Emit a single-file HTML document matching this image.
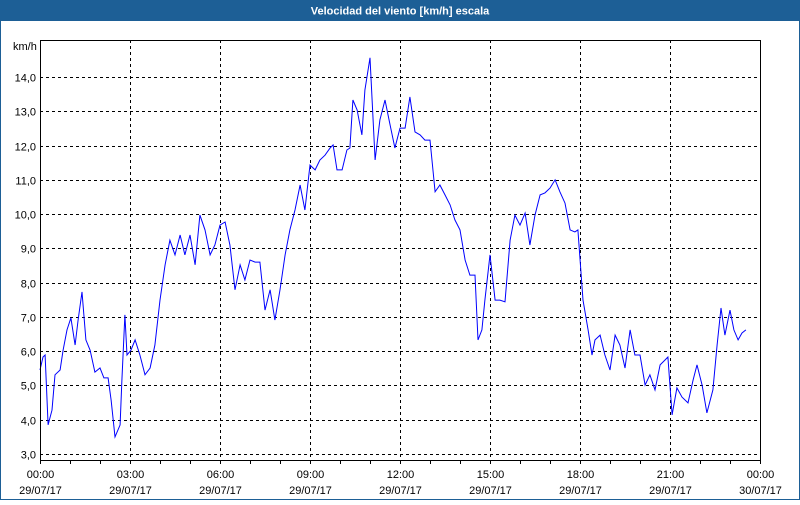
<!DOCTYPE html>
<html><head><meta charset="utf-8"><style>
body{margin:0;width:800px;height:500px;overflow:hidden;background:#fff;font-family:"Liberation Sans",sans-serif}
</style></head><body>
<svg id="chart" width="800" height="500" xmlns="http://www.w3.org/2000/svg" font-family="Liberation Sans, sans-serif">
<rect x="0.5" y="0.5" width="799" height="499" fill="#fff" stroke="#1d5f96"/>
<rect x="0" y="0" width="800" height="21" fill="#1d5f96"/>
<text x="400" y="14.5" fill="#fff" font-size="11" font-weight="bold" text-anchor="middle">Velocidad del viento [km/h] escala</text>
<text x="13" y="50" font-size="11" fill="#000">km/h</text>
<g id="grid"></g>
<g id="axes"></g>
<polyline id="series" fill="none" stroke="#0000ff" stroke-width="1"/>
<rect x="40.5" y="40.5" width="720" height="420" fill="none" stroke="#000"/>
</svg>
<script>
const hours=[0,0.1,0.17,0.27,0.4,0.5,0.67,0.77,0.9,1.03,1.17,1.27,1.4,1.53,1.67,1.83,2,2.13,2.27,2.37,2.5,2.67,2.73,2.83,2.9,3.03,3.17,3.33,3.5,3.67,3.83,4,4.17,4.33,4.5,4.67,4.83,5,5.17,5.33,5.5,5.67,5.83,6,6.17,6.33,6.5,6.67,6.83,7,7.17,7.33,7.5,7.67,7.83,8,8.17,8.33,8.5,8.67,8.83,9,9.17,9.33,9.5,9.67,9.77,9.9,10.07,10.23,10.33,10.43,10.57,10.73,10.83,11,11.17,11.33,11.5,11.67,11.83,12,12.17,12.33,12.5,12.67,12.83,13,13.17,13.33,13.5,13.67,13.83,14,14.17,14.33,14.5,14.6,14.73,14.83,15,15.17,15.33,15.5,15.67,15.83,16,16.17,16.33,16.5,16.67,16.83,17,17.17,17.33,17.5,17.67,17.83,17.93,18.1,18.27,18.4,18.5,18.67,18.83,19,19.17,19.33,19.5,19.67,19.83,20,20.17,20.33,20.5,20.67,20.83,20.93,21.07,21.23,21.4,21.6,21.77,21.9,22.07,22.23,22.43,22.57,22.7,22.83,23,23.13,23.27,23.4,23.53];
const speeds=[5.45,5.83,5.89,3.85,4.28,5.31,5.45,6.03,6.62,6.97,6.18,6.91,7.73,6.33,6.03,5.39,5.51,5.22,5.22,4.58,3.5,3.85,5.16,7.06,5.89,6.03,6.33,5.89,5.31,5.51,6.18,7.49,8.52,9.24,8.81,9.39,8.81,9.39,8.52,9.97,9.54,8.81,9.1,9.68,9.77,9.1,7.79,8.52,8.08,8.66,8.6,8.6,7.2,7.79,6.91,7.79,8.81,9.54,10.12,10.85,10.12,11.43,11.29,11.58,11.72,11.93,12.02,11.29,11.29,11.87,11.93,13.33,13.04,12.31,13.62,14.56,11.58,12.75,13.33,12.6,11.93,12.51,12.51,13.42,12.4,12.31,12.16,12.16,10.65,10.85,10.56,10.27,9.83,9.54,8.66,8.22,8.22,6.33,6.62,7.49,8.81,7.49,7.49,7.44,9.24,9.97,9.68,10.03,9.1,9.97,10.56,10.62,10.76,11.0,10.65,10.32,9.54,9.48,9.54,7.49,6.62,5.89,6.33,6.47,5.89,5.45,6.47,6.18,5.51,6.62,5.89,5.89,5.01,5.31,4.87,5.6,5.74,5.83,4.14,4.93,4.66,4.49,5.16,5.6,5.01,4.2,4.87,6.18,7.26,6.47,7.2,6.62,6.33,6.53,6.62];
const yTicks=[3,4,5,6,7,8,9,10,11,12,13,14];
const yTickLabels=["3,0","4,0","5,0","6,0","7,0","8,0","9,0","10,0","11,0","12,0","13,0","14,0"];
const xTicks=[0,3,6,9,12,15,18,21,24];
const xTimeLabels=["00:00","03:00","06:00","09:00","12:00","15:00","18:00","21:00","00:00"];
const xDateLabels=["29/07/17","29/07/17","29/07/17","29/07/17","29/07/17","29/07/17","29/07/17","29/07/17","30/07/17"];
const NS="http://www.w3.org/2000/svg";
const X0=40,X1=760,Y0=460,Y1=40;
function xs(h){return X0+h/24*(X1-X0);}
function ys(v){return 454-(v-3)*34.27;}
const grid=document.getElementById('grid'),axes=document.getElementById('axes');
function mk(tag,attrs,parent){const e=document.createElementNS(NS,tag);for(const k in attrs)e.setAttribute(k,attrs[k]);parent.appendChild(e);return e;}
yTicks.forEach((v,i)=>{
  const y=Math.round(ys(v))+0.5;
  const l=mk('line',{x1:X0,x2:X1,y1:y,y2:y,stroke:'#000','stroke-dasharray':'3,3'},grid);
  
  
  const t=mk('text',{x:36,y:y+4,'font-size':11,'text-anchor':'end'},axes);
  
  
  t.textContent=yTickLabels[i];
});
xTicks.forEach((h,i)=>{
  const x=Math.round(xs(h))+0.5;
  if(i>0&&i<xTicks.length-1){
    const l=mk('line',{x1:x,x2:x,y1:Y1,y2:Y0,stroke:'#000','stroke-dasharray':'3,3'},grid);
    
    
  }
  const t=mk('text',{x:x,y:478,'font-size':11,'text-anchor':'middle'},axes);
  
  
  t.textContent=xTimeLabels[i];
  const d=mk('text',{x:x,y:494,'font-size':11,'text-anchor':'middle'},axes);
  
  
  d.textContent=xDateLabels[i];
});
for(let h=0;h<=24;h++){
  const x=Math.round(xs(h))+0.5;
  const l=mk('line',{x1:x,x2:x,y1:Y0,y2:Y0+4,stroke:'#000'},axes);
  
  
}
document.getElementById('series').setAttribute('points',hours.map((h,i)=>xs(h).toFixed(1)+','+ys(speeds[i]).toFixed(1)).join(' '));
</script>
</body></html>
